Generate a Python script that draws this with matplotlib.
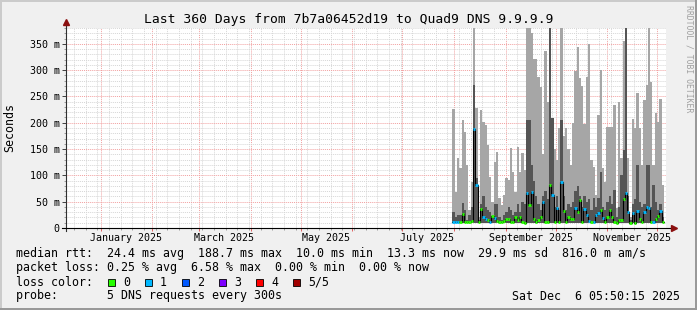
import numpy as np
import matplotlib.pyplot as plt
import matplotlib.dates as mdates
from matplotlib.patches import Rectangle
from matplotlib.ticker import NullFormatter
from datetime import datetime, timedelta

plt.rcParams["font.family"] = "DejaVu Sans Mono"

graph_end = datetime(2025, 12, 6, 5, 50, 15)
graph_start = graph_end - timedelta(days=360)
first_sample = datetime(2025, 7, 31, 1, 0)
sample_days = 1.38

# smoke per sample, in ms
ping_min = [9, 9, 10, 9, 10, 9, 9, 9, 10, 10,
            10, 9, 10, 10, 9, 9, 9, 10, 9, 9,
            9, 9, 10, 10, 9, 9, 9, 10, 9, 10,
            9, 9, 10, 10, 10, 9, 9, 9, 10, 9,
            9, 9, 10, 10, 9, 10, 9, 10, 10, 9,
            9, 9, 10, 10, 10, 10, 9, 10, 9, 9,
            9, 9, 10, 10, 10, 9, 9, 10, 10, 9,
            9, 8, 9, 9, 10, 10, 10, 8, 10, 9,
            10, 9, 9, 10, 10, 10, 9, 9, 9, 10,
            10, 9]
ping_inner = [30, 20, 25, 25, 47, 35, 15, 25, 40, 272,
              95, 15, 45, 60, 40, 35, 30, 20, 45, 45,
              20, 15, 25, 30, 40, 35, 25, 30, 45, 30,
              50, 45, 205, 205, 120, 90, 60, 45, 35, 60,
              70, 55, 380, 209, 40, 60, 35, 205, 60, 35,
              45, 40, 50, 70, 80, 60, 40, 60, 50, 55,
              35, 57, 40, 57, 106, 40, 35, 50, 60, 45,
              72, 20, 40, 100, 148, 380, 60, 15, 45, 55,
              120, 50, 40, 45, 120, 120, 40, 82, 50, 35,
              45, 20]
ping_max = [226, 68, 133, 114, 205, 182, 120, 34, 87, 380,
            228, 20, 224, 201, 196, 158, 97, 49, 125, 144,
            57, 44, 63, 95, 91, 152, 106, 68, 154, 106,
            143, 110, 380, 380, 370, 321, 321, 287, 268, 140,
            336, 240, 380, 205, 150, 130, 190, 380, 175, 190,
            150, 120, 200, 298, 344, 285, 270, 197, 287, 350,
            130, 116, 63, 215, 300, 114, 87, 192, 192, 192,
            234, 38, 240, 133, 356, 380, 133, 20, 207, 190,
            256, 190, 120, 243, 272, 380, 277, 120, 219, 201,
            245, 82]
median_rtt = [12, 12, 12, 12, 26, 12, 11, 12, 14, 188,
              82, 12, 36, 21, 17, 15, 11, 23, 19, 13,
              11, 11, 13, 17, 18, 12, 12, 20, 15, 21,
              12, 10, 66, 44, 68, 17, 11, 15, 21, 49,
              11, 11, 82, 63, 12, 38, 11, 87, 32, 12,
              20, 18, 18, 38, 30, 53, 12, 36, 25, 14,
              12, 11, 25, 29, 34, 19, 12, 21, 34, 21,
              12, 10, 16, 16, 55, 66, 30, 10, 28, 10,
              33, 18, 12, 30, 40, 38, 12, 11, 17, 23,
              32, 12]
loss = [1, 1, 1, 0, 0, 0, 0, 0, 0, 1,
        1, 0, 0, 1, 1, 0, 1, 0, 1, 0,
        0, 0, 0, 0, 0, 0, 0, 0, 0, 0,
        0, 0, 1, 0, 1, 0, 0, 0, 0, 1,
        0, 0, 0, 1, 0, 1, 0, 1, 0, 0,
        0, 0, 0, 1, 0, 0, 0, 1, 1, 1,
        0, 1, 1, 1, 0, 1, 0, 0, 0, 0,
        0, 0, 0, 0, 0, 1, 1, 0, 1, 0,
        1, 0, 0, 1, 1, 1, 0, 1, 0, 0,
        1, 0]

loss_labels = ["0", "1", "2", "3", "4", "5/5"]
loss_colors = ["#26ff00", "#00b8ff", "#0059ff", "#7e00ff", "#ff0000", "#a10000"]
label_months = [1, 3, 5, 7, 9, 11]

title = "Last 360 Days from 7b7a06452d19 to Quad9 DNS 9.9.9.9"
stats_rtt = "median rtt:  24.4 ms avg  188.7 ms max  10.0 ms min  13.3 ms now  29.9 ms sd  816.0 m am/s"
stats_loss = "packet loss: 0.25 % avg  6.58 % max  0.00 % min  0.00 % now"
probe_text = "probe:       5 DNS requests every 300s"
stamp = "Sat Dec  6 05:50:15 2025"

W, H = 697, 310
fig = plt.figure(figsize=(W / 100, H / 100), dpi=100, facecolor="#f0f0f0")
ax = fig.add_axes([66 / W, 1 - 228 / H, 600 / W, 200 / H], facecolor="white")


def stepped(v):
    return np.append(v, v[-1])


edges = mdates.date2num(first_sample) + np.arange(len(ping_max) + 1) * sample_days
ax.fill_between(edges, stepped(ping_min), stepped(ping_max), step="post",
                color="#a6a6a6", lw=0, zorder=2)
ax.fill_between(edges, stepped(ping_min), stepped(ping_inner), step="post",
                color="#555555", lw=0, zorder=2)
ax.step(edges, stepped(median_rtt), where="post", color="black", lw=0.8, zorder=3)
ax.hlines(median_rtt, edges[:-1], edges[1:], colors=[loss_colors[l] for l in loss],
          lw=2, zorder=4)

ax.set_xlim(mdates.date2num(graph_start), mdates.date2num(graph_end))
ax.set_ylim(0, 380)
ax.xaxis.set_major_locator(mdates.MonthLocator())
ax.xaxis.set_minor_locator(mdates.WeekdayLocator(byweekday=mdates.MO))
ax.xaxis.set_major_formatter(NullFormatter())
ax.set_yticks(range(0, 351, 50))
ax.set_yticks(range(0, 381, 10), minor=True)
ax.set_yticklabels(["0"] + [f"{v} m" for v in range(50, 351, 50)], fontsize=7.2)
ax.grid(which="minor", color="#d6d6d6", lw=0.7, ls=(0, (1, 1)), zorder=1)
ax.grid(which="major", color="#f2a0a0", lw=0.7, ls=(0, (1, 1)), zorder=1)
ax.tick_params(axis="y", which="major", length=3, width=0.7, color="#404040", pad=1.5)
ax.tick_params(axis="y", which="minor", length=1.5, width=0.6, color="#909090")
ax.tick_params(axis="x", which="major", length=2.5, width=0.7, color="#e06060")
ax.tick_params(axis="x", which="minor", length=1.5, width=0.6, color="#909090")
for s in ax.spines.values():
    s.set_visible(False)

for m in label_months:
    d = datetime(2025, m, 1) + timedelta(days=15)
    ax.text(mdates.date2num(d), -0.05, d.strftime("%B %Y"), transform=ax.get_xaxis_transform(),
            ha="center", va="center", fontsize=7.2)

# axes with arrows
ax.plot([0, 0], [-0.015, 1.02], transform=ax.transAxes, color="#303030", lw=0.8,
        clip_on=False, zorder=6)
ax.plot([-4 / 600, 1 + 5 / 600], [0, 0], transform=ax.transAxes, color="black", lw=0.8,
        clip_on=False, zorder=6)
ax.plot([0], [1.03], marker="^", ms=4, color="#8b1010", transform=ax.transAxes, clip_on=False, zorder=7)
ax.plot([1 + 8 / 600], [0], marker=">", ms=4, color="#8b1010", transform=ax.transAxes, clip_on=False, zorder=7)


def fx(px):
    return px / W


def fy(py):
    return 1 - py / H


fig.text(fx(348.5), fy(19), title, ha="center", va="center", fontsize=9.4)
fig.text(fx(10), fy(128), "Seconds", rotation=90, ha="center", va="center", fontsize=8.4)
fig.text(fx(689), fy(5), "RRDTOOL / TOBI OETIKER", rotation=270, ha="center", va="top",
         fontsize=5.9, color="#a0a0a0")

fig.text(fx(16), fy(254), stats_rtt, va="center", fontsize=8.4)
fig.text(fx(16), fy(268), stats_loss, va="center", fontsize=8.4)
fig.text(fx(16), fy(282), "loss color:", va="center", fontsize=8.4)
for i, (lab, col) in enumerate(zip(loss_labels, loss_colors)):
    bx = 108 + 37 * i
    fig.add_artist(Rectangle((fx(bx), fy(286)), 7 / W, 7 / H, transform=fig.transFigure,
                             facecolor=col, edgecolor="black", lw=0.6))
    fig.text(fx(bx + 15), fy(282), lab, va="center", fontsize=8.4)
fig.text(fx(16), fy(296), probe_text, va="center", fontsize=8.4)
fig.text(fx(680), fy(296), stamp, ha="right", va="center", fontsize=8.4)

# 3d frame
for (x0, y0, w, h, c) in [(0, H - 2, W, 2, "#cbcbcb"), (0, 0, 2, H, "#cbcbcb"),
                          (0, 0, W, 2, "#999999"), (W - 2, 0, 2, H, "#999999")]:
    fig.add_artist(Rectangle((x0 / W, y0 / H), w / W, h / H, transform=fig.transFigure,
                             facecolor=c, edgecolor="none"))

fig.savefig("out.png", dpi=100, facecolor=fig.get_facecolor())
